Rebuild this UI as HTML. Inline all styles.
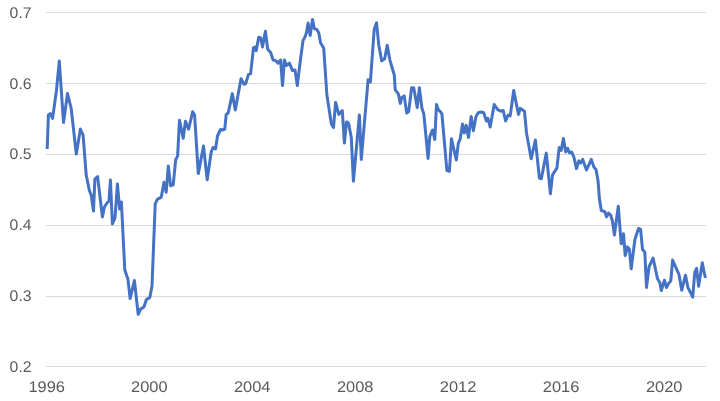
<!DOCTYPE html>
<html><head><meta charset="utf-8"><style>
html,body{margin:0;padding:0;background:#fff;}
body{width:720px;height:401px;overflow:hidden;}
svg{display:block;}
.t{opacity:0.999;will-change:transform;}
text{font-family:"Liberation Sans",sans-serif;font-size:16px;fill:#595959;text-rendering:geometricPrecision;}
</style></head><body>
<svg width="720" height="401" viewBox="0 0 720 401">
<line x1="46" y1="12.5" x2="706" y2="12.5" stroke="#D9D9D9" stroke-width="1"/>
<line x1="46" y1="83.5" x2="706" y2="83.5" stroke="#D9D9D9" stroke-width="1"/>
<line x1="46" y1="154.5" x2="706" y2="154.5" stroke="#D9D9D9" stroke-width="1"/>
<line x1="46" y1="225.5" x2="706" y2="225.5" stroke="#D9D9D9" stroke-width="1"/>
<line x1="46" y1="296.5" x2="706" y2="296.5" stroke="#D9D9D9" stroke-width="1"/>
<line x1="46" y1="366.5" x2="706" y2="366.5" stroke="#D9D9D9" stroke-width="1"/>
<g class="t">
<text x="31.6" y="17.8" text-anchor="end" textLength="22" lengthAdjust="spacingAndGlyphs" style="font-size:15.4px">0.7</text>
<text x="31.6" y="88.8" text-anchor="end" textLength="22" lengthAdjust="spacingAndGlyphs" style="font-size:15.4px">0.6</text>
<text x="31.6" y="158.7" text-anchor="end" textLength="22" lengthAdjust="spacingAndGlyphs" style="font-size:15.4px">0.5</text>
<text x="31.6" y="229.6" text-anchor="end" textLength="22" lengthAdjust="spacingAndGlyphs" style="font-size:15.4px">0.4</text>
<text x="31.6" y="300.7" text-anchor="end" textLength="22" lengthAdjust="spacingAndGlyphs" style="font-size:15.4px">0.3</text>
<text x="31.6" y="371.8" text-anchor="end" textLength="22" lengthAdjust="spacingAndGlyphs" style="font-size:15.4px">0.2</text>
<text x="46.7" y="391.8" text-anchor="middle" textLength="36.6" lengthAdjust="spacingAndGlyphs" style="font-size:15.4px">1996</text>
<text x="149.3" y="391.8" text-anchor="middle" textLength="36.6" lengthAdjust="spacingAndGlyphs" style="font-size:15.4px">2000</text>
<text x="252.2" y="391.8" text-anchor="middle" textLength="36.6" lengthAdjust="spacingAndGlyphs" style="font-size:15.4px">2004</text>
<text x="355.2" y="391.8" text-anchor="middle" textLength="36.6" lengthAdjust="spacingAndGlyphs" style="font-size:15.4px">2008</text>
<text x="458.1" y="391.8" text-anchor="middle" textLength="36.6" lengthAdjust="spacingAndGlyphs" style="font-size:15.4px">2012</text>
<text x="561.1" y="391.8" text-anchor="middle" textLength="36.6" lengthAdjust="spacingAndGlyphs" style="font-size:15.4px">2016</text>
<text x="664.2" y="391.8" text-anchor="middle" textLength="36.6" lengthAdjust="spacingAndGlyphs" style="font-size:15.4px">2020</text>
</g>
<polyline fill="none" stroke="#4472C4" stroke-width="3" stroke-linejoin="round" stroke-linecap="butt" points="47.2,149 48.4,115 50.4,113.6 52.6,118.4 56.4,91 59.3,61 63.5,122.5 67.5,93.5 71.2,108.5 76.3,154 80.4,129 83.1,135 86.2,175 89.5,191 91.2,195 93.5,211 94.9,179 97.6,176.5 102.4,217 104.4,207 107,203 109,201 110.4,180 112.4,224 115,218 117.4,184 119.6,209 121.4,202 124.8,270 128,279.5 130.1,298.6 134.4,280.5 138.2,314.4 140.7,309 143.9,307 146.4,299.6 149.8,297.5 152,286 155.2,204 157.3,199.4 161.3,197.1 164,182.3 166.2,192.2 168.3,166.1 170.6,185.8 173.2,184.9 175.7,159.6 177.6,156.1 179.5,120.2 183.2,138.2 185.5,121.3 188.6,129.2 192.7,111.7 194.6,115 198.3,173.6 203.5,146 207.2,179.7 211.2,152 213,147.5 215.5,149 217.5,136 220.5,129.5 222.5,130 224.8,129 226.2,114.5 228.3,112.8 232.3,93.6 235.3,110.1 241,78.7 244,84.3 245.7,83.6 248.5,74.4 250.6,73.8 253.5,47.7 255,47 256.2,50.7 258.7,37.2 260.7,37.7 262.5,47 265.4,31.2 267.7,49.2 270.6,52.5 273.1,60 275.6,60.6 278.1,63.1 280.6,60 282.5,85.6 284.4,60 286.3,65.6 289.4,63.1 292.5,70.6 295,70 297.3,85.6 300,63.1 303,40.6 305,36.9 306.5,32.5 308.1,23.1 310.2,35.6 312.5,19.4 314.4,28.8 316.9,29.4 318.8,33.1 320.6,43.1 321.9,45 323.7,48.2 326.9,95 329.4,111.3 331.3,123.8 333.5,127.5 335.6,102.5 338.8,114.4 342.3,110.6 344.4,143.1 346.5,121.9 348.5,123.1 351.3,137.5 353.4,181.3 359.4,115 361.3,159.4 368.1,79.7 370.4,81.9 374.2,29.5 376.5,22.7 378.7,44.4 381.7,60.9 384.7,58.7 387.2,45.2 389.9,60.1 392.5,69 394.3,75 395.2,89.9 397,92.2 398.5,94.4 400.3,103.4 401.8,97.4 404.2,95.9 406.7,113.1 408.7,111.6 411.6,87.7 413.7,87.7 417.2,107.6 419.4,87.7 421.9,108.1 423.8,113.8 428.1,158.5 429.8,136.5 432.5,130 434.8,139.4 436.5,104.4 438.5,110 440.6,111.9 441.9,113.8 446.9,170.6 449.4,171.3 451.5,138.8 456.3,160 458.3,143.4 460.2,138.9 462.5,124 464.3,132.9 466.2,125.4 468.5,137.4 471.2,116.5 473.4,130.7 476,116.5 478.2,112.7 481.2,112 483.7,112.7 486.4,121 487.9,118.3 490.2,127 494.2,104.5 497.7,109.7 500.7,111.2 503.2,110.5 505.6,121 508,115.2 510.2,115.9 513.7,90.5 516.2,103.2 518.5,114.4 520.3,108.4 522.7,109.9 524.5,111.4 526.5,133 531.2,158.7 535.4,140 539.4,178.1 541.3,178.8 546.3,153.1 550.4,193.8 552.5,175 554.4,171.9 556.9,168.1 559.2,147.5 561.2,150.4 563.4,138.5 565.7,152 567.6,148.2 569.4,152.7 571.6,152 573.9,157.2 576.5,168.6 578.8,160.9 580.6,163.1 582.7,159.4 586.5,170 591.3,159.4 593.8,166.9 596,169.4 598.1,181.3 599.4,198.8 601.3,210.6 603.8,211.3 605,211.9 606.5,216.9 608.5,213.1 610.6,215 612.5,221.3 614.4,235 618.3,206.3 621.2,243.8 623.5,233.8 625.2,255.6 627.5,246.9 629.4,249.4 631.2,268.8 634.9,239.5 638.5,228.5 640.6,229.4 642.5,249.4 644.8,251.9 646.5,287.5 649,267 653.1,258.1 657.5,278.8 659.8,282.5 661.3,290.5 664.4,280.2 666.5,287.5 668.7,283.4 670.8,280.9 672.6,260.1 675.6,266.9 679,274.5 681.7,290.3 685.5,275.2 687.9,287.5 690,291.6 692.7,297.1 694.8,272.4 696.6,268.3 698.6,286.2 702.3,262.8 704.1,272.4 705.5,277.9"/>
</svg>
</body></html>
